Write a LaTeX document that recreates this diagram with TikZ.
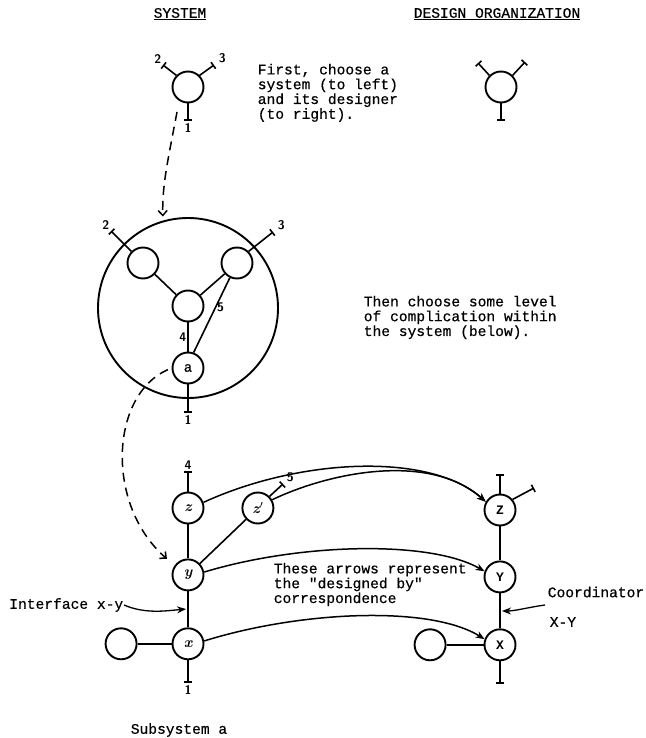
\documentclass[tikz,border=0pt]{standalone}
\usepackage{fontspec}
\newfontfamily\typew{Liberation Mono}[FakeBold=0.5]
\newfontfamily\typebold{Liberation Mono Bold}
\usetikzlibrary{positioning,arrows.meta}
\tikzset{
  unit/.style={circle,draw,line width=1.9pt,minimum size=31pt,inner sep=0pt,font=\typebold\fontsize{13}{13}\selectfont},
  hand/.style={font=\rmfamily\bfseries\itshape\fontsize{15}{15}\selectfont},
  stub/.style={-{Bar[width=8pt,line width=1.6pt]}},
  num/.style={font=\sffamily\bfseries\fontsize{12.5}{12.5}\selectfont,inner sep=1pt},
  note/.style={font=\typew\fontsize{14.6}{14.8}\selectfont,align=left,inner sep=0pt},
  link/.style={-{Stealth[length=9pt,width=7pt]},line width=1.5pt},
  dashlink/.style={dash pattern=on 9pt off 6pt,line width=1.5pt,-{Straight Barb[length=5pt,width=9pt]}}
}
\begin{document}
\begin{tikzpicture}[x=1pt,y=-1pt,line width=1.6pt]
        \useasboundingbox (0,0) rectangle (645,738);
        \node[note] (systitle) at (180,14) {\underline{SYSTEM}};
        \node[note] (destitle) at (497,14) {\underline{DESIGN ORGANIZATION}};

        \node[unit] (top) at (188,87) {};
        \coordinate (top2) at (163,65);
        \coordinate (top3) at (214,65);
        \coordinate (top1) at (188,121);
        \draw[stub] (top.135) -- (top2);
        \draw[stub] (top.45) -- (top3);
        \draw[stub] (top.south) -- (top1);
        \node[num, above left=0pt of top2] {2};
        \node[num, above right=0pt and 3pt of top3] {3};
        \node[num, below=1pt of top1] {1};
        \node[note, anchor=north west] (first) at (257,63) {First, choose a\\system (to left)\\and its designer\\(to right).};

        \node[unit] (des) at (501,87) {};
        \coordinate (des2) at (478,63);
        \coordinate (des3) at (525,62);
        \coordinate (des1) at (501,121);
        \draw[stub] (des.135) -- (des2);
        \draw[stub] (des.45) -- (des3);
        \draw[stub] (des.south) -- (des1);

        \node[circle, draw, line width=1.9pt, minimum size=180pt] (big) at (188,308) {};
        \coordinate (dstart) at (177,112);
        \draw[dashlink, shorten >=4pt] (dstart) .. controls (168,160) and (162,185) .. (big.106);

        \node[unit] (l) at (143,263) {};
        \node[unit] (r) at (237,263) {};
        \node[unit] (c) at (188,306) {};
        \node[unit, font=\typew\fontsize{14}{14}\selectfont] (a) at (188,368) {a};
        \coordinate (in2) at (111,231);
        \coordinate (in3) at (273,232);
        \coordinate (in1) at (188,413);
        \draw (l) -- (c) (r) -- (c);
        \draw (c) -- node[num, left] {4} (a);
        \draw (r) -- node[num, right, pos=.4] {5} (a.70);
        \draw[stub] (l.135) -- (in2);
        \draw[stub] (r.45) -- (in3);
        \draw[stub] (a.south) -- (in1);
        \node[num, above left=0pt of in2] {2};
        \node[num, above right=0pt and 3pt of in3] {3};
        \node[num, below=1pt of in1] {1};
        \node[note, anchor=north west] (then) at (363,295) {Then choose some level\\of complication within\\the system (below).};

        \node[unit, hand] (z) at (188,508) {z};
        \node[unit, hand, right=37pt of z] (zp) {z$'$};
        \node[unit, hand, below=34pt of z] (y) {y};
        \node[unit, hand, below=36pt of y] (x) {x};
        \node[unit, left=34pt of x] (xl) {};
        \coordinate (z4) at (188,471);
        \coordinate (zp5) at (283,484);
        \coordinate (x1) at (188,683);
        \draw (z) -- (y) -- (x) -- (xl);
        \draw (zp) -- (y);
        \draw[stub] (z.north) -- (z4);
        \draw[stub] (zp.45) -- (zp5);
        \draw[stub] (x.south) -- (x1);
        \node[num, above=0pt of z4] {4};
        \node[num, above right=0pt and 2pt of zp5] {5};
        \node[num, below=1pt of x1] {1};
        \draw[dashlink, shorten <=4pt, shorten >=10pt] (a.west) .. controls (110,395) and (105,505) .. (y.145);

        \node[unit] (Z) at (500,510) {Z};
        \node[unit, below=34pt of Z] (Y) {Y};
        \node[unit, below=35pt of Y] (X) {X};
        \node[unit, left=37pt of X] (Xl) {};
        \coordinate (Z4) at (500,474);
        \coordinate (Z5) at (534,488);
        \coordinate (X1) at (500,684);
        \draw (Z) -- (Y) -- (X) -- (Xl);
        \draw[stub] (Z.north) -- (Z4);
        \draw[stub] (Z.40) -- (Z5);
        \draw[stub] (X.south) -- (X1);

        \draw[link] (z.20) .. controls (300,458) and (430,452) .. (Z.150);
        \draw[link] (zp.30) .. controls (330,472) and (430,452) .. (Z.150);
        \draw[link] (y.10) .. controls (300,543) and (430,540) .. (Y.160);
        \draw[link] (x.10) .. controls (300,611) and (430,605) .. (X.160);
        \node[note, anchor=north west] (these) at (273,562) {These arrows represent\\the "designed by"\\correspondence};

        \node[note, anchor=east] (iface) at (124,605) {Interface x-y};
        \coordinate (ixy) at (186,609);
        \draw[link, line width=1.3pt] (iface.east) .. controls (145,614) and (165,611) .. (ixy);

        \node[note, anchor=west] (coord) at (547,592) {Coordinator};
        \node[note, anchor=west] (cxy) at (549,622) {X-Y};
        \coordinate (cstart) at (545,605);
        \coordinate (cend) at (502,611);
        \draw[link, line width=1.3pt] (cstart) .. controls (530,607) and (515,611) .. (cend);

        \node[note] (sub) at (179,730) {Subsystem a};
\end{tikzpicture}
\end{document}
